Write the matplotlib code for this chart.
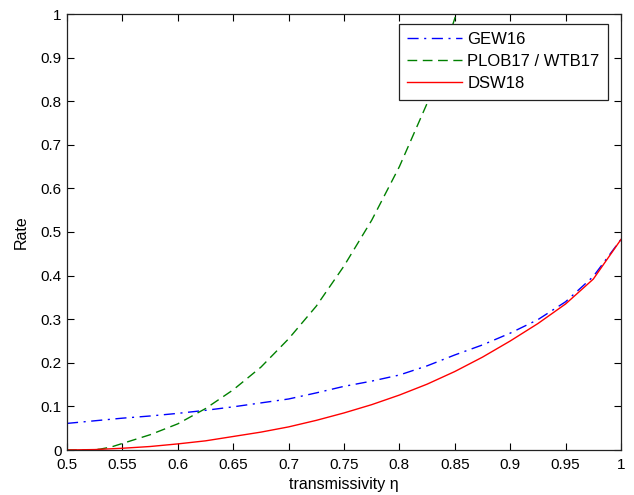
import matplotlib.pyplot as plt
import matplotlib.ticker as ticker

plt.rcParams['font.family'] = ['Liberation Sans', 'DejaVu Sans']

# transmissivity samples and key rates
eta = [0.5, 0.525, 0.55, 0.575, 0.6, 0.625, 0.65, 0.675, 0.7, 0.725, 0.75,
       0.775, 0.8, 0.825, 0.85, 0.875, 0.9, 0.925, 0.95, 0.975, 1.0]
gew16 = [0.061, 0.067, 0.073, 0.078, 0.084, 0.091, 0.099, 0.108, 0.117, 0.131, 0.146,
         0.158, 0.172, 0.193, 0.218, 0.241, 0.268, 0.299, 0.340, 0.398, 0.483]
dsw18 = [0.0, 0.001, 0.004, 0.008, 0.014, 0.021, 0.031, 0.041, 0.053, 0.068, 0.085,
         0.104, 0.126, 0.151, 0.180, 0.213, 0.250, 0.290, 0.335, 0.392, 0.483]

eta_plob = [0.5, 0.51, 0.52, 0.53, 0.54, 0.55, 0.575, 0.6, 0.625, 0.65, 0.675, 0.7,
            0.725, 0.75, 0.775, 0.8, 0.825, 0.85, 0.875]
plob17 = [0.0, 0.0, 0.0, 0.002, 0.007, 0.015, 0.035, 0.060, 0.095, 0.138, 0.190, 0.255,
          0.330, 0.422, 0.527, 0.650, 0.795, 0.990, 1.220]

labels = ['GEW16', 'PLOB17 / WTB17', 'DSW18']

fig = plt.figure(figsize=(6.34, 4.95), dpi=100)
ax = fig.add_axes([67 / 634, 1 - 450 / 495, 554 / 634, 436 / 495])

ax.plot(eta, gew16, color=(0, 0, 1), linestyle='-.', dashes=(8, 4, 1.5, 4),
        linewidth=1.0, label=labels[0])
ax.plot(eta_plob, plob17, color=(0, 0.5, 0), linestyle='--', dashes=(7, 4),
        linewidth=1.0, label=labels[1])
ax.plot(eta, dsw18, color=(1, 0, 0), linestyle='-', linewidth=1.0, label=labels[2])

ax.set_xlim(0.5, 1.0)
ax.set_ylim(0, 1)
ax.xaxis.set_major_locator(ticker.MultipleLocator(0.05))
ax.yaxis.set_major_locator(ticker.MultipleLocator(0.1))
ax.xaxis.set_major_formatter(ticker.FormatStrFormatter('%g'))
ax.yaxis.set_major_formatter(ticker.FormatStrFormatter('%g'))
ax.tick_params(direction='in', length=5, width=0.8, top=True, right=True,
               labelsize=11, colors='black')
ax.tick_params(axis='x', pad=6)
ax.tick_params(axis='y', pad=4)
for s in ax.spines.values():
    s.set_linewidth(0.9)
    s.set_color('#222222')

ax.set_xlabel('transmissivity η', fontsize=11.5, labelpad=3)
ax.set_ylabel('Rate', fontsize=11.5, labelpad=8)

leg = ax.legend(loc='upper right', bbox_to_anchor=(1 - 13 / 554, 1 - 10 / 436),
                fontsize=12, handlelength=3.3, handletextpad=0.3,
                borderpad=0.5, labelspacing=0.42, fancybox=False,
                framealpha=1, borderaxespad=0)
leg.get_frame().set_edgecolor('#222222')
leg.get_frame().set_linewidth(0.9)

fig.savefig('out.png', dpi=100)
